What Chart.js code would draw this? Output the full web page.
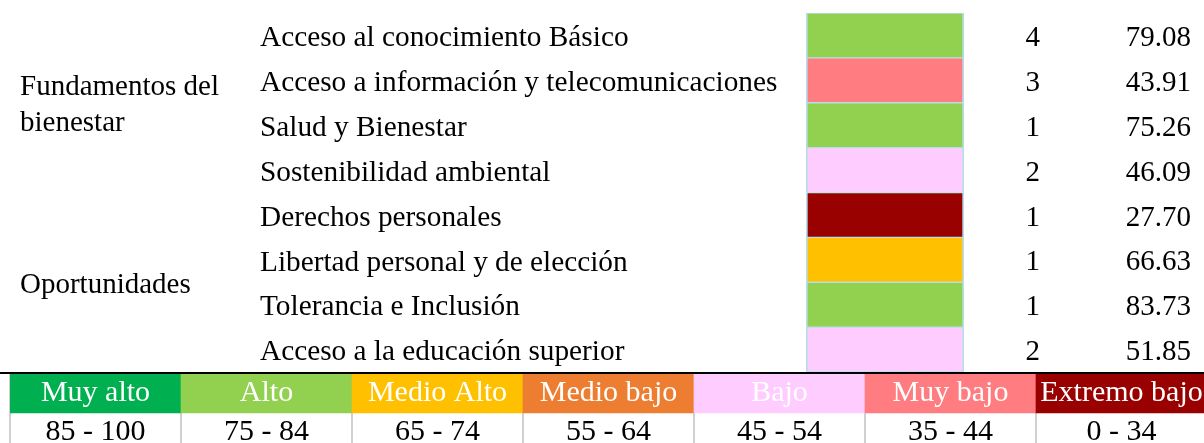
<!DOCTYPE html>
<html lang="es">
<head>
<meta charset="utf-8">
<title>Componentes por nivel</title>
<script src="https://cdn.jsdelivr.net/npm/chart.js@4.4.1/dist/chart.umd.min.js"></script>
<style>
  html, body { margin: 0; padding: 0; background: #fff; overflow: hidden; }
  canvas { display: block; }
  #escala { border-top: 2px solid #000; width: 1210px; }
</style>
</head>
<body>
<canvas id="tabla" width="1204" height="372"></canvas>
<div id="escala"><canvas id="leyenda" width="1210" height="78"></canvas></div>
<script>
// dimensiones (texto partido en lineas) y a que dimension pertenece cada componente
const dimensiones = [['Fundamentos del', 'bienestar'], ['Oportunidades']];
const dimensionDe = [0, 0, 0, 0, 1, 1, 1, 1];

const componentes = [
  'Acceso al conocimiento Básico',
  'Acceso a información y telecomunicaciones',
  'Salud y Bienestar',
  'Sostenibilidad ambiental',
  'Derechos personales',
  'Libertad personal y de elección',
  'Tolerancia e Inclusión',
  'Acceso a la educación superior'
];
const cantidad = [4, 3, 1, 2, 1, 1, 1, 2];
const puntaje = [79.08, 43.91, 75.26, 46.09, 27.70, 66.63, 83.73, 51.85];
const celdas = [1, 1, 1, 1, 1, 1, 1, 1];

// escala de niveles
const nombresNivel = ['Muy alto', 'Alto', 'Medio Alto', 'Medio bajo', 'Bajo', 'Muy bajo', 'Extremo bajo'];
const rangosNivel = ['85 - 100', '75 - 84', '65 - 74', '55 - 64', '45 - 54', '35 - 44', '0 - 34'];
const minimoNivel = [85, 75, 65, 55, 45, 35, 0];
const coloresNivel = ['#00b050', '#92d050', '#ffc000', '#ed7d31', '#ffccff', '#ff7c80', '#990000'];
const filaRango = [1, 1, 1, 1, 1, 1, 1];
const filaNivel = [1, 1, 1, 1, 1, 1, 1];

const serif = "'Liberation Serif', 'Times New Roman', serif";
Chart.defaults.font.family = serif;
Chart.defaults.color = '#000';

function colorDePuntaje(v) {
  const i = minimoNivel.findIndex(m => v >= m);
  return coloresNivel[i];
}

// ancho fijo de cada eje y sin el relleno extra que chart.js reserva arriba/abajo
function anchoFijo(w) {
  return function (s) {
    s.width = w;
    s.paddingTop = 0;
    s.paddingBottom = 0;
  };
}

const grupos = {
  id: 'grupos',
  afterDraw(chart) {
    const ctx = chart.ctx;
    const y = chart.scales.y;
    ctx.save();
    ctx.font = '29px ' + serif;
    ctx.fillStyle = '#000';
    ctx.textAlign = 'left';
    ctx.textBaseline = 'middle';
    dimensiones.forEach((lineas, g) => {
      const filas = dimensionDe.map((d, i) => d === g ? i : -1).filter(i => i >= 0);
      const centro = (y.getPixelForValue(filas[0]) + y.getPixelForValue(filas[filas.length - 1])) / 2 + 3;
      lineas.forEach((t, k) => {
        ctx.fillText(t, 20, centro + (k - (lineas.length - 1) / 2) * 36);
      });
    });
    ctx.restore();
  }
};

new Chart(document.getElementById('tabla'), {
  type: 'bar',
  data: {
    labels: componentes,
    datasets: [{
      data: celdas,
      backgroundColor: puntaje.map(colorDePuntaje),
      borderColor: '#b7dee8',
      borderWidth: { left: 2, right: 2, top: 1, bottom: 1 },
      borderSkipped: false,
      categoryPercentage: 1,
      barPercentage: 1
    }]
  },
  options: {
    indexAxis: 'y',
    responsive: false,
    animation: false,
    layout: { padding: { left: 260, right: 13, top: 13, bottom: 0 } },
    plugins: { legend: { display: false }, tooltip: { enabled: false } },
    scales: {
      x: { display: false, min: 0, max: 1 },
      y: {
        position: 'left',
        grid: { display: false, drawTicks: false },
        border: { display: false },
        ticks: { crossAlign: 'far', padding: 0, labelOffset: 3, autoSkip: false, font: { size: 29.3 } },
        afterFit: anchoFijo(546)
      },
      cantidad: {
        type: 'category',
        labels: cantidad.map(String),
        position: 'right',
        weight: 1,
        offset: true,
        grid: { display: false, drawTicks: false },
        border: { display: false },
        ticks: { crossAlign: 'far', padding: 0, labelOffset: 3, autoSkip: false, font: { size: 29 } },
        afterFit: anchoFijo(76)
      },
      puntaje: {
        type: 'category',
        labels: puntaje.map(v => v.toFixed(2)),
        position: 'right',
        weight: 2,
        offset: true,
        grid: { display: false, drawTicks: false },
        border: { display: false },
        ticks: { crossAlign: 'far', padding: 0, labelOffset: 3, autoSkip: false, font: { size: 29 } },
        afterFit: anchoFijo(151)
      }
    }
  },
  plugins: [grupos]
});

const textoLeyenda = {
  id: 'textoLeyenda',
  afterDatasetsDraw(chart) {
    const ctx = chart.ctx;
    const textos = [rangosNivel, nombresNivel];
    const colores = ['#000', '#fff'];
    ctx.save();
    ctx.font = '30px ' + serif;
    ctx.textAlign = 'center';
    ctx.textBaseline = 'middle';
    textos.forEach((lista, d) => {
      ctx.fillStyle = colores[d];
      chart.getDatasetMeta(d).data.forEach((bar, j) => {
        ctx.fillText(lista[j], bar.x, (bar.y + bar.base) / 2);
      });
    });
    ctx.restore();
  }
};

new Chart(document.getElementById('leyenda'), {
  type: 'bar',
  data: {
    labels: nombresNivel,
    datasets: [
      { label: 'Rango', data: filaRango, backgroundColor: 'rgba(0,0,0,0)', categoryPercentage: 1, barPercentage: 1 },
      { label: 'Nivel', data: filaNivel, backgroundColor: coloresNivel, categoryPercentage: 1, barPercentage: 1 }
    ]
  },
  options: {
    responsive: false,
    animation: false,
    layout: { padding: { left: 10, right: 3, top: 0, bottom: 0 } },
    plugins: { legend: { display: false }, tooltip: { enabled: false } },
    scales: {
      x: {
        stacked: true,
        grid: { display: true, offset: true, color: '#d0d0d0', lineWidth: 2, drawTicks: false },
        border: { display: false },
        ticks: { display: false }
      },
      y: { stacked: true, display: false, min: 0, max: 2 }
    }
  },
  plugins: [textoLeyenda]
});
</script>
</body>
</html>
